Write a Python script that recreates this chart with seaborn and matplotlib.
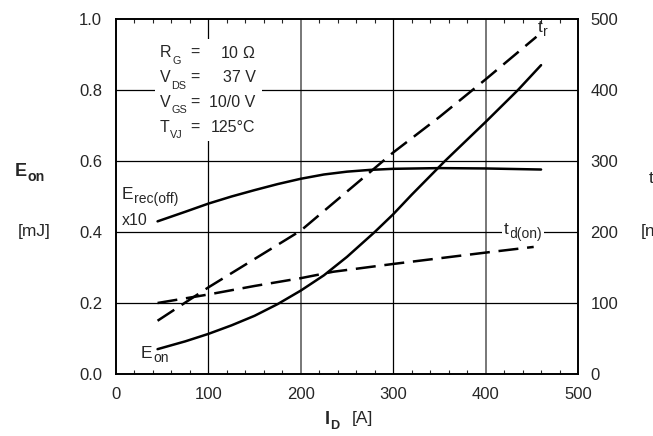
import numpy as np
import pandas as pd
import matplotlib
matplotlib.use('Agg')
import matplotlib.pyplot as plt
import seaborn as sns
from matplotlib.patches import Rectangle

# values
i_eon = [45, 75, 100, 125, 150, 175, 200, 225, 250, 280, 300, 320, 356, 400, 435, 460]
e_on = [0.07, 0.092, 0.113, 0.137, 0.164, 0.197, 0.235, 0.278, 0.33, 0.40, 0.45,
        0.505, 0.60, 0.71, 0.80, 0.87]

i_erec = [45, 75, 100, 125, 150, 175, 200, 225, 250, 275, 300, 350, 400, 460]
e_rec = [0.43, 0.457, 0.48, 0.50, 0.518, 0.535, 0.55, 0.562, 0.57, 0.575, 0.578,
         0.58, 0.579, 0.576]

i_tr = [45, 100, 150, 200, 250, 300, 350, 400, 455]
t_r = [75, 122, 162, 202, 257, 312, 362, 415, 475]

i_tdon = [45, 100, 150, 200, 235, 300, 350, 400, 452]
t_don = [100, 112, 124, 135, 144, 155, 163, 171, 179]

conditions = [('R', 'G', '=', r'10 $\Omega$'),
              ('V', 'DS', '=', '37 V'),
              ('V', 'GS', '=', '10/0 V'),
              ('T', 'VJ', '=', '125°C')]

sns.set_style('white')
plt.rcParams['font.family'] = ['Liberation Sans', 'DejaVu Sans']
plt.rcParams['mathtext.fontset'] = 'custom'
plt.rcParams['mathtext.rm'] = 'Liberation Sans'
plt.rcParams['mathtext.it'] = 'Liberation Sans:italic'
plt.rcParams['mathtext.bf'] = 'Liberation Sans:bold'


def sub_text(a, x, y, main, sub, size, scale=0.8, drop=-3, weight='normal',
             transform=None, bg=False, zorder=4):
    tr = transform if transform is not None else a.transData
    t = a.text(x, y, main, fontsize=size, va='center', transform=tr,
               fontweight=weight, zorder=zorder + 1)
    s = a.annotate(sub, xy=(1, 0), xycoords=t, xytext=(0.5, drop),
                   textcoords='offset points', fontsize=size * scale,
                   va='bottom', ha='left', fontweight=weight,
                   annotation_clip=False, zorder=zorder)
    if bg:
        t.set_bbox(dict(facecolor='white', edgecolor='none', pad=1.5))
        s.set_bbox(dict(facecolor='white', edgecolor='none', pad=1.5))
    return t, s


fig = plt.figure(figsize=(6.53, 4.36), dpi=100)
ax = fig.add_axes([0.1776, 0.1422, 0.7076, 0.8142])
ax2 = ax.twinx()

lw = 1.8
sns.lineplot(x=i_eon, y=e_on, ax=ax, color='black', lw=lw, zorder=5)
sns.lineplot(x=i_erec, y=e_rec, ax=ax, color='black', lw=lw, zorder=5)
sns.lineplot(x=i_tr, y=t_r, ax=ax2, color='black', lw=lw)
sns.lineplot(x=i_tdon, y=t_don, ax=ax2, color='black', lw=lw)
for ln in ax2.get_lines():
    ln.set_dashes((8, 3.5))

ax.set_xlim(0, 500)
ax.set_ylim(0, 1.0)
ax2.set_ylim(0, 500)
ax.set_xticks([0, 100, 200, 300, 400, 500])
ax.set_yticks([0, 0.2, 0.4, 0.6, 0.8, 1.0])
ax.set_yticklabels(['0.0', '0.2', '0.4', '0.6', '0.8', '1.0'])
ax2.set_yticks([0, 100, 200, 300, 400, 500])
ax.set_xticks(np.arange(0, 501, 20), minor=True)

# grid lines
for xv in [100, 300]:
    ax.axvline(xv, color='black', lw=0.9, zorder=1)
for xv in [200, 400]:
    ax.axvline(xv, color='#777777', lw=1.4, zorder=1)
for yv in [0.2, 0.4, 0.6, 0.8]:
    ax.axhline(yv, color='black', lw=0.9, zorder=1)

ax.tick_params(axis='x', which='major', direction='in', length=0, labelsize=12, pad=9, top=False)
ax.tick_params(axis='x', which='minor', direction='in', length=3, width=0.8, top=True, bottom=True)
ax.tick_params(axis='y', direction='in', length=0, labelsize=12, pad=10)
ax2.tick_params(axis='y', direction='in', length=0, labelsize=12, pad=9)
for a in (ax, ax2):
    for s in a.spines.values():
        s.set_color('black')
        s.set_linewidth(1.2)
ax2.set_ylabel('')
ax.set_ylabel('')

# condition box
ax.add_patch(Rectangle((0.085, 0.655), 0.23, 0.29, transform=ax.transAxes,
                       facecolor='white', edgecolor='none', zorder=3))
y0 = 0.905
for k, (name, sub, eq, val) in enumerate(conditions):
    yy = y0 - k * 0.07
    sub_text(ax, 0.095, yy, name, sub, 11.5, scale=0.68, drop=-4,
             transform=ax.transAxes)
    ax.text(0.17, yy, eq, transform=ax.transAxes, fontsize=11.5, va='center', ha='center', zorder=4)
    ax.text(0.302, yy, val, transform=ax.transAxes, fontsize=11.5, va='center', ha='right', zorder=4)

# curve labels
sub_text(ax, 6, 0.505, 'E', 'rec(off)', 12.5)
ax.text(6, 0.432, 'x10', fontsize=11.5, va='center', zorder=4)
sub_text(ax, 27, 0.058, 'E', 'on', 12.5)
sub_text(ax2, 456, 488, 't', 'r', 12.5)
sub_text(ax2, 420, 204, 't', 'd(on)', 12.5, bg=True)

# axis labels
sub_text(ax, 0.022, 0.607, 'E', 'on', 13, scale=0.78, weight='bold', transform=fig.transFigure)
fig.text(0.052, 0.468, '[mJ]', fontsize=12.5, ha='center', va='center')
sub_text(ax, 0.497, 0.038, 'I', 'D', 13, scale=0.7, weight='bold', transform=fig.transFigure)
fig.text(0.555, 0.040, '[A]', fontsize=12.5, ha='center', va='center')
fig.text(0.994, 0.59, 't', fontsize=12.5, ha='left', va='center')
fig.text(0.981, 0.468, '[ns]', fontsize=12.5, ha='left', va='center')

fig.savefig('out.png', dpi=100)
